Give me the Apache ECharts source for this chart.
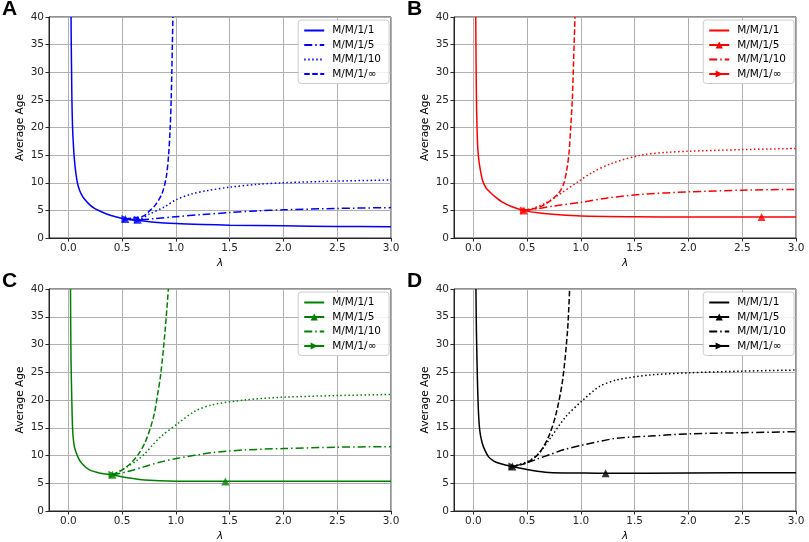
<!DOCTYPE html>
<html>
<head>
<meta charset="utf-8">
<script src="https://cdn.jsdelivr.net/npm/echarts/dist/echarts.min.js"></script>
<style>
  html, body { margin: 0; padding: 0; background: #fff; }
  #chart { width: 809px; height: 542px; }
</style>
</head>
<body>
<div id="chart"></div>
<script>
"use strict";

// legend names, same order in every panel
const names = ["M/M/1/1", "M/M/1/5", "M/M/1/10", "M/M/1/∞"];
const xTicks = [0.0, 0.5, 1.0, 1.5, 2.0, 2.5, 3.0];

// panel A (blue)
const solidA = [[0.025,40],[0.027,35],[0.03,30],[0.033,25],[0.039,20],[0.045,17.5],[0.053,15],[0.065,12.5],[0.084,10],[0.105,8.6],[0.133,7.5],[0.17,6.6],[0.2,6.0],[0.24,5.4],[0.28,5.0],[0.35,4.4],[0.43,3.9],[0.53,3.45],[0.65,3.15],[0.8,2.85],[1.0,2.62],[1.25,2.45],[1.5,2.33],[2.0,2.2],[2.5,2.1],[3.0,2.05]];
const dashDotA = [[0.53,3.45],[0.645,3.3],[0.8,3.5],[1.0,3.85],[1.25,4.25],[1.5,4.6],[1.75,4.9],[2.0,5.1],[2.5,5.35],[3.0,5.5]];
const dottedA = [[0.53,3.45],[0.645,3.35],[0.76,4.4],[0.9,5.7],[1.0,6.9],[1.15,8.0],[1.3,8.6],[1.5,9.2],[1.75,9.7],[2.0,10.0],[2.5,10.3],[3.0,10.5]];
const dashedA = [[0.53,3.45],[0.6,3.6],[0.7,4.0],[0.76,5.0],[0.81,6.0],[0.87,8.0],[0.91,11.0],[0.932,15],[0.947,20],[0.956,25],[0.962,30],[0.967,35],[0.972,40]];
const blobA = [[0.53,3.45],[0.645,3.3]];
const triA = [];

// panel B (red)
const solidB = [[0.022,40],[0.024,35],[0.026,30],[0.029,25],[0.034,20],[0.042,16],[0.055,13.5],[0.07,11.8],[0.087,10.3],[0.12,9.0],[0.155,8.3],[0.2,7.5],[0.27,6.5],[0.36,5.65],[0.47,5.0],[0.6,4.55],[0.8,4.2],[1.0,3.98],[1.5,3.85],[2.0,3.8],[2.5,3.78],[3.0,3.78]];
const dashDotB = [[0.47,5.0],[0.6,5.3],[0.75,5.8],[1.0,6.45],[1.25,7.25],[1.56,7.9],[2.0,8.35],[2.5,8.65],[3.0,8.8]];
const dottedB = [[0.47,5.0],[0.56,5.4],[0.67,6.3],[0.8,7.9],[0.975,10.2],[1.1,11.8],[1.285,13.5],[1.56,15.0],[1.8,15.5],[2.0,15.7],[2.5,16.0],[3.0,16.2]];
const dashedB = [[0.47,5.0],[0.56,5.3],[0.65,5.9],[0.74,7.1],[0.8,8.3],[0.84,9.8],[0.87,12.5],[0.89,15.5],[0.905,20],[0.92,25],[0.932,32],[0.945,40]];
const blobB = [[0.47,5.0]];
const triB = [[2.68,3.8]];

// panel C (green)
const solidC = [[0.02,40],[0.022,33],[0.025,27],[0.031,21],[0.04,14.6],[0.056,11.6],[0.087,9.8],[0.124,8.6],[0.196,7.4],[0.3,6.8],[0.41,6.5],[0.55,6.0],[0.71,5.6],[1.0,5.38],[1.46,5.35],[2.0,5.35],[3.0,5.35]];
const dashDotC = [[0.41,6.5],[0.55,7.1],[0.71,8.0],[0.85,8.8],[1.02,9.5],[1.33,10.5],[1.64,11.0],[2.0,11.25],[2.5,11.5],[3.0,11.6]];
const dottedC = [[0.41,6.5],[0.55,8.0],[0.63,9.0],[0.71,10.3],[0.78,11.8],[0.86,13.4],[1.02,15.8],[1.17,17.9],[1.33,19.1],[1.64,20.0],[2.0,20.5],[2.5,20.8],[3.0,21.0]];
const dashedC = [[0.41,6.5],[0.5,7.4],[0.58,8.6],[0.65,10.2],[0.71,12.2],[0.76,14.8],[0.8,17.6],[0.83,21],[0.86,24.8],[0.9,32.6],[0.93,40]];
const blobC = [[0.41,6.55]];
const triC = [[1.46,5.3]];

// panel D (black)
const solidD = [[0.024,40],[0.028,33],[0.034,27],[0.04,22],[0.048,17.6],[0.059,14.6],[0.075,12.8],[0.093,11.6],[0.14,9.8],[0.19,9.0],[0.24,8.6],[0.363,8.0],[0.55,7.3],[0.7,6.95],[1.0,6.85],[1.23,6.8],[2.0,6.85],[3.0,6.9]];
const dashDotD = [[0.363,8.0],[0.5,8.7],[0.6,9.4],[0.7,10.1],[0.85,11.1],[1.02,11.9],[1.33,13.1],[1.64,13.5],[2.0,13.9],[2.5,14.1],[3.0,14.3]];
const dottedD = [[0.363,8.0],[0.5,8.9],[0.6,10.2],[0.7,12.7],[0.86,17.0],[1.02,20.0],[1.17,22.4],[1.33,23.6],[1.64,24.5],[2.0,24.9],[2.5,25.2],[3.0,25.4]];
const dashedD = [[0.363,8.0],[0.5,8.7],[0.61,10.4],[0.7,13.4],[0.77,17.6],[0.83,23.6],[0.876,32.6],[0.895,40]];
const blobD = [[0.363,8.0]];
const triD = [[1.23,6.8]];

// line patterns (matplotlib-like)
const DASHDOT = [8, 3, 1.5, 3];
const DOTTED = [1.5, 2.5];
const DASHED = [5.5, 2.5];

const panels = [
    { key: "A", color: "#0000ff", left: 49, top: 17, height: 221, curves: [solidA, dashDotA, dottedA, dashedA], blob: blobA, tri: triA, markerLegend: false },
    { key: "B", color: "#ff0000", left: 454, top: 17, height: 221, curves: [solidB, dashDotB, dottedB, dashedB], blob: blobB, tri: triB, markerLegend: true },
    { key: "C", color: "#008000", left: 49, top: 289, height: 222, curves: [solidC, dashDotC, dottedC, dashedC], blob: blobC, tri: triC, markerLegend: true },
    { key: "D", color: "#000000", left: 454, top: 289, height: 222, curves: [solidD, dashDotD, dottedD, dashedD], blob: blobD, tri: triD, markerLegend: true }
];
const styles = ["solid", DASHDOT, DOTTED, DASHED];

const ink = "#262626";
const font = "DejaVu Sans";

let grids = [], xAxes = [], yAxes = [], series = [], legends = [], letters = [];

panels.forEach(function (p, i) {
    grids.push({
        left: p.left, top: p.top, width: 342, height: p.height,
        show: true, borderColor: ink, borderWidth: 1, backgroundColor: "transparent",
        outerBoundsMode: "none"
    });

    xAxes.push({
        type: "value", gridIndex: i, min: -0.18, max: 3, splitNumber: 6,
        name: "λ", nameLocation: "middle", nameGap: 20,
        nameTextStyle: { fontFamily: font, fontStyle: "italic", fontSize: 10.5, color: "#000" },
        axisLine: { show: true, onZero: false, lineStyle: { color: ink, width: 1 } },
        axisTick: { show: true, length: 3.5, lineStyle: { color: ink } },
        axisLabel: {
            fontFamily: font, fontSize: 10.5, color: ink, margin: 5, showMinLabel: false,
            formatter: function (v) {
                let hit = xTicks.find(t => Math.abs(t - v) < 1e-6);
                return hit === undefined ? "" : hit.toFixed(1);
            }
        },
        splitLine: { show: true, lineStyle: { color: "#b0b0b0", width: 1 } }
    });

    yAxes.push({
        type: "value", gridIndex: i, min: 0, max: 40, interval: 5,
        name: "Average Age", nameLocation: "middle", nameGap: 23,
        nameTextStyle: { fontFamily: font, fontSize: 10.5, color: "#000" },
        axisLine: { show: true, onZero: false, lineStyle: { color: ink, width: 1 } },
        axisTick: { show: true, length: 3.5, lineStyle: { color: ink } },
        axisLabel: { fontFamily: font, fontSize: 10.5, color: ink, margin: 5 },
        splitLine: { show: true, lineStyle: { color: "#b0b0b0", width: 1 } }
    });

    // the four curves
    p.curves.forEach(function (curve, k) {
        let withTri = p.markerLegend && (k === 1 || k === 3);
        series.push({
            type: "line", name: p.key + "#" + names[k],
            xAxisIndex: i, yAxisIndex: i, data: curve,
            symbol: withTri ? "triangle" : "circle",
            symbolRotate: (withTri && k === 3) ? -90 : 0,
            showSymbol: false, smooth: 0.3,
            lineStyle: { color: p.color, width: 1.5, type: styles[k] },
            itemStyle: { color: p.color },
            silent: true, animation: false
        });
    });

    // markers at the minimum points
    series.push({
        type: "scatter", name: p.key + "#tri", xAxisIndex: i, yAxisIndex: i,
        data: p.blob.concat(p.tri), symbol: "triangle", symbolSize: 8,
        itemStyle: { color: p.color }, silent: true, animation: false, z: 5
    });
    series.push({
        type: "scatter", name: p.key + "#arrow", xAxisIndex: i, yAxisIndex: i,
        data: p.blob, symbol: "triangle", symbolRotate: -90, symbolSize: 8,
        itemStyle: { color: p.color }, silent: true, animation: false, z: 5
    });

    let legendData;
    if (p.markerLegend) {
        legendData = [
            { name: p.key + "#" + names[0], itemStyle: { opacity: 0 } },
            { name: p.key + "#" + names[1], lineStyle: { type: "solid" } },
            { name: p.key + "#" + names[2], itemStyle: { opacity: 0 }, lineStyle: { type: DASHDOT } },
            { name: p.key + "#" + names[3], lineStyle: { type: "solid" }, symbolRotate: -90 }
        ];
    } else {
        legendData = names.map(n => ({ name: p.key + "#" + n, itemStyle: { opacity: 0 } }));
    }
    legends.push({
        orient: "vertical", data: legendData, selectedMode: false,
        right: 809 - (p.left + 340), top: p.top + 3,
        itemWidth: 20, itemHeight: 9, itemGap: 3.5,
        padding: [5, 8, 4, 5],
        backgroundColor: "rgba(255,255,255,0.85)", borderColor: "#cccccc", borderWidth: 1, borderRadius: 3,
        textStyle: { fontFamily: font, fontSize: 10.5, color: "#000", padding: [0, 0, 0, 3] },
        formatter: function (name) { return name.split("#")[1]; }
    });

    letters.push({
        type: "text", left: p.left - 47, top: p.top - 18,
        style: { text: p.key, font: "bold 21px 'Liberation Sans', Arial, sans-serif", fill: "#000" }
    });
});

let myChart = echarts.init(document.getElementById("chart"), null, { renderer: "canvas" });
myChart.setOption({
    animation: false,
    backgroundColor: "#ffffff",
    grid: grids,
    xAxis: xAxes,
    yAxis: yAxes,
    legend: legends,
    series: series,
    graphic: letters
});
</script>
</body>
</html>
